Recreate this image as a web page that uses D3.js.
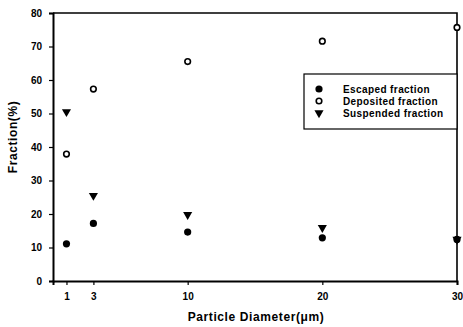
<!DOCTYPE html>
<html>
<head>
<meta charset="utf-8">
<script src="https://cdn.jsdelivr.net/npm/d3@7"></script>
<style>
  body { margin: 0; background: #fff; }
  text { font-family: "Liberation Sans", Arial, sans-serif; font-weight: bold; fill: #000; }
</style>
</head>
<body>
<svg width="463" height="327"></svg>
<script>
// data
const diameters = [1, 3, 10, 20, 30];
const escaped = [11.1, 17.2, 14.6, 12.9, 12.4];
const deposited = [37.9, 57.3, 65.5, 71.6, 75.7];
const suspended = [50.5, 25.5, 19.8, 15.9, 12.4];
const yTicks = [0, 10, 20, 30, 40, 50, 60, 70, 80];
const legendLabels = ['Escaped fraction', 'Deposited fraction', 'Suspended fraction'];

let width = 463,
    height = 327;

let margin = { left: 53, right: 6, top: 13, bottom: 46 };

let svg = d3.select('svg');

let scaleX = d3.scaleLinear()
    .domain([0, 30])
    .range([margin.left, width - margin.right]);

let scaleY = d3.scaleLinear()
    .domain([0, 80])
    .range([height - margin.bottom, margin.top]);

// frame: top and right lines
svg.append('path')
    .attr('d', `M${scaleX(0)},${scaleY(80)}H${scaleX(30)}V${scaleY(0)}`)
    .attr('fill', 'none')
    .attr('stroke', '#000')
    .attr('stroke-width', 1.6);

// x axis
let xAxis = d3.axisBottom(scaleX)
    .tickValues(diameters)
    .tickSize(4)
    .tickPadding(8);

let xAxisG = svg.append('g')
    .attr('transform', `translate(0, ${scaleY(0)})`)
    .call(xAxis);
xAxisG.select('.domain').attr('stroke-width', 2);
xAxisG.selectAll('.tick line').attr('stroke-width', 1.2);
xAxisG.selectAll('.tick text')
    .style('font-size', '10px')
    .style('font-weight', 'bold')
    .style('font-family', '"Liberation Sans", Arial, sans-serif');

// y axis
let yAxis = d3.axisLeft(scaleY)
    .tickValues(yTicks)
    .tickSize(4)
    .tickPadding(7);

let yAxisG = svg.append('g')
    .attr('transform', `translate(${scaleX(0)}, 0)`)
    .call(yAxis);
yAxisG.select('.domain').attr('stroke-width', 2);
yAxisG.selectAll('.tick line').attr('stroke-width', 1.2);
yAxisG.selectAll('.tick text')
    .style('font-size', '10px')
    .style('font-weight', 'bold')
    .style('font-family', '"Liberation Sans", Arial, sans-serif');

// axis titles
svg.append('text')
    .attr('x', 256)
    .attr('y', 321)
    .attr('text-anchor', 'middle')
    .style('font-size', '12px')
    .style('letter-spacing', '0.6px')
    .text('Particle Diameter(μm)');

svg.append('text')
    .attr('transform', 'translate(17, 137) rotate(-90)')
    .attr('text-anchor', 'middle')
    .style('font-size', '12px')
    .style('letter-spacing', '0.6px')
    .text('Fraction(%)');

// markers
let triangle = d3.symbol().type(d3.symbolTriangle).size(36);

function drawFilled(g, x, y) {
    g.append('circle').attr('cx', x).attr('cy', y).attr('r', 3.6).attr('fill', '#000');
}
function drawOpen(g, x, y) {
    g.append('circle').attr('cx', x).attr('cy', y).attr('r', 2.8)
        .attr('fill', '#fff').attr('stroke', '#000').attr('stroke-width', 1.6);
}
function drawTriangle(g, x, y) {
    g.append('path').attr('d', triangle)
        .attr('transform', `translate(${x},${y}) rotate(180)`)
        .attr('fill', '#000');
}

let points = svg.append('g');
diameters.forEach((d, i) => {
    drawOpen(points, scaleX(d), scaleY(deposited[i]));
    drawFilled(points, scaleX(d), scaleY(escaped[i]));
    drawTriangle(points, scaleX(d), scaleY(suspended[i]));
});

// legend
let legend = svg.append('g');
legend.append('rect')
    .attr('x', 304)
    .attr('y', 74)
    .attr('width', scaleX(30) - 304)
    .attr('height', 55)
    .attr('fill', '#fff')
    .attr('stroke', '#000')
    .attr('stroke-width', 1.2);

let drawers = [drawFilled, drawOpen, drawTriangle];
legendLabels.forEach((label, i) => {
    let y = 89 + i * 12;
    drawers[i](legend, 319, y);
    legend.append('text')
        .attr('x', 343)
        .attr('y', y + 3.5)
        .style('font-size', '10px')
        .style('letter-spacing', '0.4px')
        .text(label);
});
</script>
</body>
</html>
